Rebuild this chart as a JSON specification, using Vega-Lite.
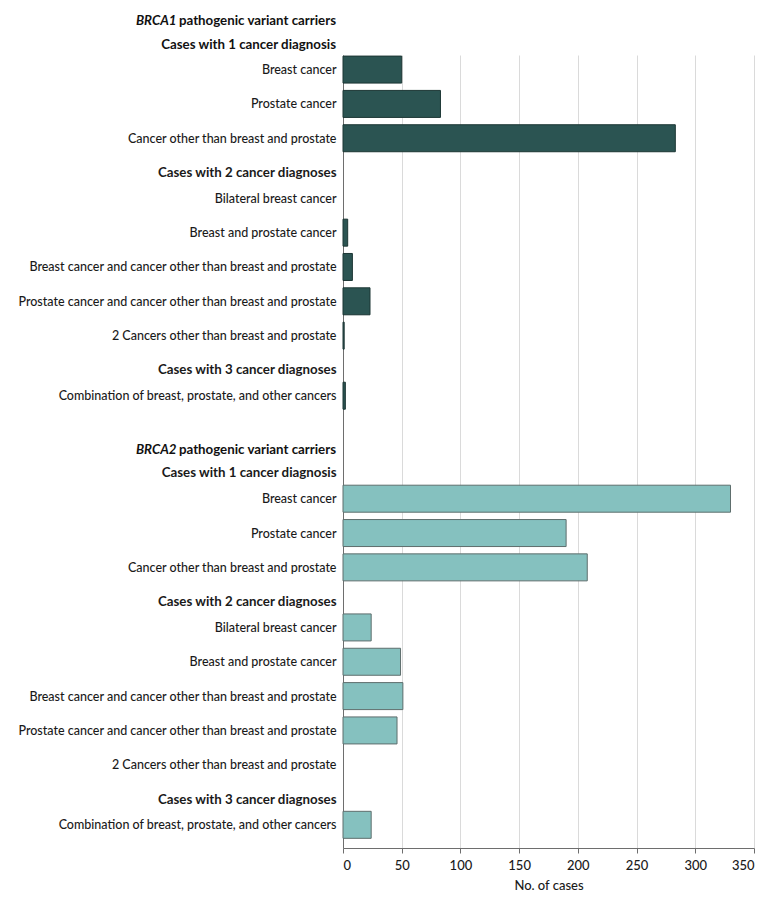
{
  "$schema": "https://vega.github.io/schema/vega-lite/v6.json",
  "width": 411,
  "height": 793,
  "autosize": {"type": "none"},
  "padding": {"left": 343, "top": 55, "right": 26, "bottom": 56},
  "background": "white",
  "config": {"font": "Lato", "view": {"stroke": null}},
  "data": {
    "values": [
      {"gene": "BRCA1", "key": "1|Breast cancer", "cases": 50},
      {"gene": "BRCA1", "key": "1|Prostate cancer", "cases": 83},
      {"gene": "BRCA1", "key": "1|Cancer other than breast and prostate", "cases": 283},
      {"gene": "BRCA1", "key": "1|Bilateral breast cancer", "cases": 0},
      {"gene": "BRCA1", "key": "1|Breast and prostate cancer", "cases": 4},
      {"gene": "BRCA1", "key": "1|Breast cancer and cancer other than breast and prostate", "cases": 8},
      {"gene": "BRCA1", "key": "1|Prostate cancer and cancer other than breast and prostate\u00a0", "cases": 23},
      {"gene": "BRCA1", "key": "1|2 Cancers other than breast and prostate", "cases": 1},
      {"gene": "BRCA1", "key": "1|Combination of breast, prostate, and other cancers", "cases": 2},
      {"gene": "BRCA2", "key": "2|Breast cancer", "cases": 330},
      {"gene": "BRCA2", "key": "2|Prostate cancer", "cases": 190},
      {"gene": "BRCA2", "key": "2|Cancer other than breast and prostate", "cases": 208},
      {"gene": "BRCA2", "key": "2|Bilateral breast cancer", "cases": 24},
      {"gene": "BRCA2", "key": "2|Breast and prostate cancer", "cases": 49},
      {"gene": "BRCA2", "key": "2|Breast cancer and cancer other than breast and prostate", "cases": 51},
      {"gene": "BRCA2", "key": "2|Prostate cancer and cancer other than breast and prostate\u00a0", "cases": 46},
      {"gene": "BRCA2", "key": "2|2 Cancers other than breast and prostate", "cases": 0},
      {"gene": "BRCA2", "key": "2|Combination of breast, prostate, and other cancers", "cases": 24}
    ]
  },
  "encoding": {
    "y": {
      "field": "key",
      "type": "nominal",
      "scale": {
        "type": "point",
        "padding": 0.7,
        "domain": [
          "_top",
          "1|Breast cancer", "_1", "_2", "_3",
          "1|Prostate cancer", "_5", "_6", "_7",
          "1|Cancer other than breast and prostate", "_9", "_10", "_11",
          "1|Cases with 2 cancer diagnoses", "_13", "_14",
          "1|Bilateral breast cancer", "_16", "_17", "_18",
          "1|Breast and prostate cancer", "_20", "_21", "_22",
          "1|Breast cancer and cancer other than breast and prostate", "_24", "_25", "_26",
          "1|Prostate cancer and cancer other than breast and prostate\u00a0", "_28", "_29", "_30",
          "1|2 Cancers other than breast and prostate", "_32", "_33", "_34",
          "1|Cases with 3 cancer diagnoses", "_36", "_37",
          "1|Combination of breast, prostate, and other cancers", "_39", "_40", "_41", "_42", "_43", "_44", "_45", "_46",
          "2|Cases with 1 cancer diagnosis", "_48", "_49",
          "2|Breast cancer", "_51", "_52", "_53",
          "2|Prostate cancer", "_55", "_56", "_57",
          "2|Cancer other than breast and prostate", "_59", "_60", "_61",
          "2|Cases with 2 cancer diagnoses", "_63", "_64",
          "2|Bilateral breast cancer", "_66", "_67", "_68",
          "2|Breast and prostate cancer", "_70", "_71", "_72",
          "2|Breast cancer and cancer other than breast and prostate", "_74", "_75", "_76",
          "2|Prostate cancer and cancer other than breast and prostate\u00a0", "_78", "_79", "_80",
          "2|2 Cancers other than breast and prostate", "_82", "_83", "_84",
          "2|Cases with 3 cancer diagnoses", "_86", "_87",
          "2|Combination of breast, prostate, and other cancers", "_89", "_90"
        ]
      },
      "axis": {
        "title": null,
        "values": [
          "1|Breast cancer", "1|Prostate cancer", "1|Cancer other than breast and prostate",
          "1|Cases with 2 cancer diagnoses", "1|Bilateral breast cancer", "1|Breast and prostate cancer",
          "1|Breast cancer and cancer other than breast and prostate",
          "1|Prostate cancer and cancer other than breast and prostate\u00a0",
          "1|2 Cancers other than breast and prostate", "1|Cases with 3 cancer diagnoses",
          "1|Combination of breast, prostate, and other cancers",
          "2|Cases with 1 cancer diagnosis",
          "2|Breast cancer", "2|Prostate cancer", "2|Cancer other than breast and prostate",
          "2|Cases with 2 cancer diagnoses", "2|Bilateral breast cancer", "2|Breast and prostate cancer",
          "2|Breast cancer and cancer other than breast and prostate",
          "2|Prostate cancer and cancer other than breast and prostate\u00a0",
          "2|2 Cancers other than breast and prostate", "2|Cases with 3 cancer diagnoses",
          "2|Combination of breast, prostate, and other cancers"
        ],
        "labelExpr": "substring(datum.value, 2)",
        "ticks": false,
        "grid": false,
        "domainColor": "#6e6e6e",
        "domainWidth": 1,
        "labelPadding": 7,
        "labelLimit": 400,
        "labelColor": "#1a1a1a",
        "labelFontSize": {"condition": {"test": "indexof(datum.value, 'Cases') >= 0", "value": 13.3}, "value": 12.5},
        "labelFontWeight": {"condition": {"test": "indexof(datum.value, 'Cases') >= 0", "value": "bold"}, "value": 500}
      }
    }
  },
  "layer": [
    {
      "mark": {"type": "bar", "strokeWidth": 1},
      "encoding": {
        "x": {
          "field": "cases",
          "type": "quantitative",
          "scale": {"domain": [0, 350], "nice": false},
          "axis": {
            "values": [0, 50, 100, 150, 200, 250, 300, 350],
            "grid": true,
            "gridColor": "#dadada",
            "gridWidth": 1,
            "domainColor": "#6e6e6e",
            "tickColor": "#6e6e6e",
            "tickSize": 5,
            "labelFontSize": 13,
            "labelFontWeight": 500,
            "labelColor": "#1a1a1a",
            "labelPadding": 6,
            "title": "No. of cases",
            "titleFontSize": 13,
            "titleFontWeight": 500,
            "titleColor": "#1a1a1a",
            "titlePadding": 7
          }
        },
        "size": {"value": 27},
        "color": {
          "field": "gene",
          "type": "nominal",
          "scale": {"domain": ["BRCA1", "BRCA2"], "range": ["#2b5452", "#85c1bf"]},
          "legend": null
        },
        "stroke": {
          "field": "gene",
          "type": "nominal",
          "scale": {"domain": ["BRCA1", "BRCA2"], "range": ["#1c3634", "#5e6e6d"]},
          "legend": null
        },
        "strokeOpacity": {"condition": {"test": "datum.cases == 0", "value": 0}, "value": 1}
      }
    },
    {
      "data": {"values": [{}]},
      "mark": {"type": "text", "text": " pathogenic variant carriers", "align": "right", "baseline": "middle", "dx": -7, "dy": -48.5, "fontSize": 13.3, "fontWeight": "bold", "color": "#111111"},
      "encoding": {"x": {"datum": 0, "type": "quantitative"}, "y": {"datum": "1|Breast cancer"}}
    },
    {
      "data": {"values": [{}]},
      "mark": {"type": "text", "text": "BRCA1", "align": "right", "baseline": "middle", "dx": -166.5, "dy": -48.5, "fontSize": 13.3, "fontWeight": "bold", "fontStyle": "italic", "color": "#111111"},
      "encoding": {"x": {"datum": 0, "type": "quantitative"}, "y": {"datum": "1|Breast cancer"}}
    },
    {
      "data": {"values": [{}]},
      "mark": {"type": "text", "text": "Cases with 1 cancer diagnosis", "align": "right", "baseline": "middle", "dx": -7, "dy": -24.5, "fontSize": 13.3, "fontWeight": "bold", "color": "#111111"},
      "encoding": {"x": {"datum": 0, "type": "quantitative"}, "y": {"datum": "1|Breast cancer"}}
    },
    {
      "data": {"values": [{}]},
      "mark": {"type": "text", "text": " pathogenic variant carriers", "align": "right", "baseline": "middle", "dx": -7, "dy": -23, "fontSize": 13.3, "fontWeight": "bold", "color": "#111111"},
      "encoding": {"x": {"datum": 0, "type": "quantitative"}, "y": {"datum": "2|Cases with 1 cancer diagnosis"}}
    },
    {
      "data": {"values": [{}]},
      "mark": {"type": "text", "text": "BRCA2", "align": "right", "baseline": "middle", "dx": -166.5, "dy": -23, "fontSize": 13.3, "fontWeight": "bold", "fontStyle": "italic", "color": "#111111"},
      "encoding": {"x": {"datum": 0, "type": "quantitative"}, "y": {"datum": "2|Cases with 1 cancer diagnosis"}}
    }
  ]
}
